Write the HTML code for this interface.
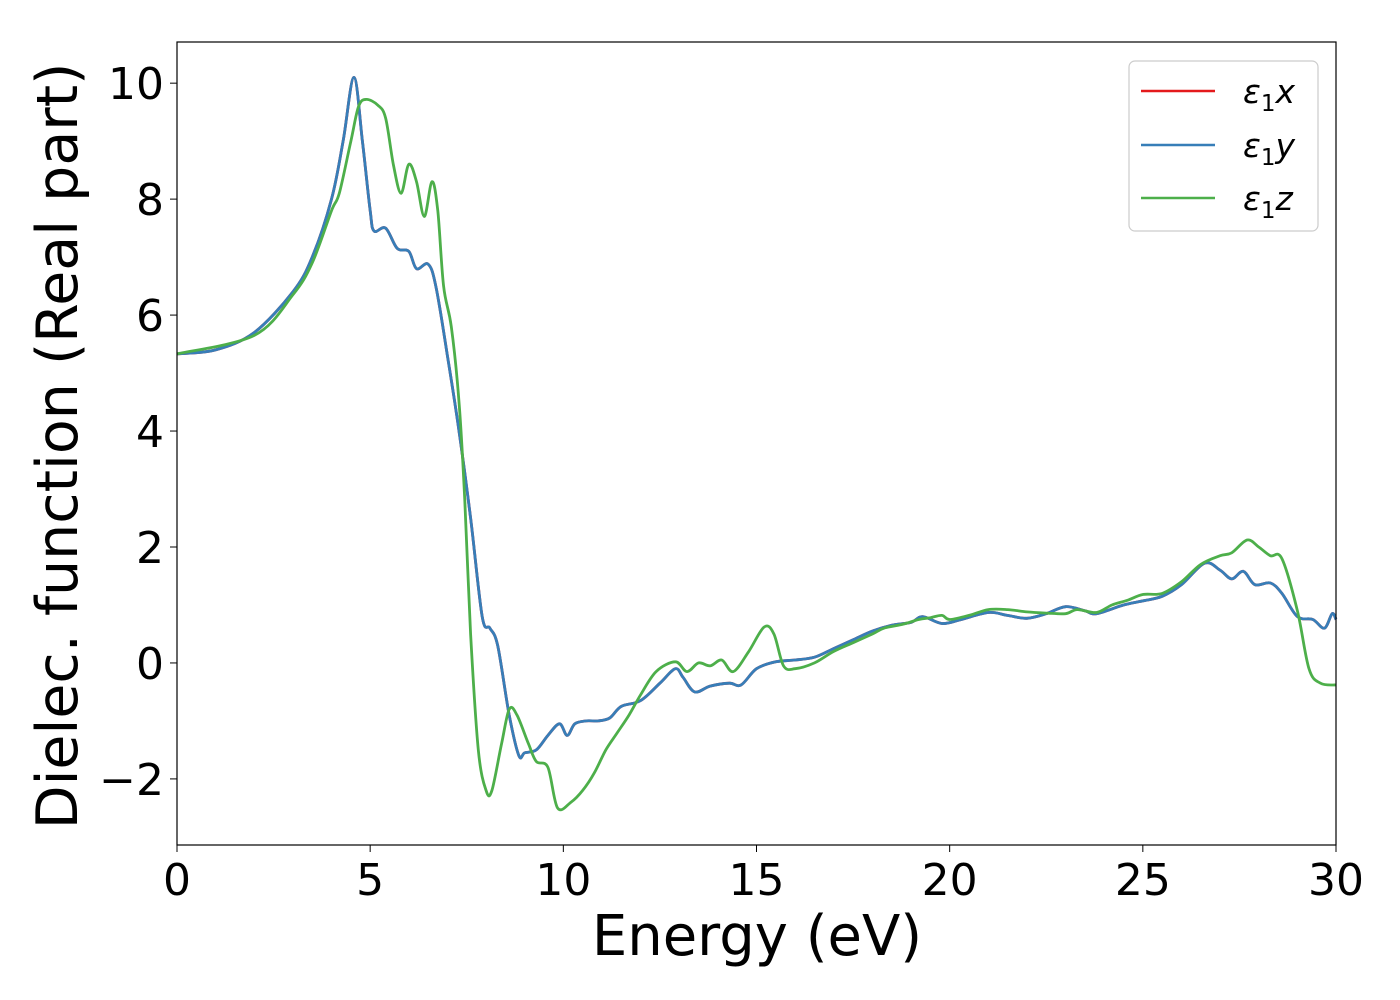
<!DOCTYPE html>
<html><head><meta charset="utf-8"><style>
body{margin:0;background:#fff}
svg{display:block;font-family:"DejaVu Sans","Liberation Sans",sans-serif}
</style></head><body>
<svg id="chart" width="1400" height="1000" viewBox="0 0 1400 1000">
<rect width="1400" height="1000" fill="#fff"/>
<g id="series"></g>
<rect x="177" y="42" width="1159" height="803" fill="none" stroke="#000" stroke-width="1.2"/>
<g id="ticks"></g>
<text x="757" y="955" font-size="56" text-anchor="middle">Energy (eV)</text>
<text transform="translate(77,446) rotate(-90)" font-size="57" text-anchor="middle">Dielec. function (Real part)</text>
<g>
<rect x="1129" y="61" width="189" height="170" rx="6" fill="#fff" fill-opacity="0.8" stroke="#ccc" stroke-width="1.2"/>
<g><line x1="1141" y1="91" x2="1215" y2="91" stroke="#e41a1c" stroke-width="2.5"/><text x="1243" y="103" font-size="33" font-style="italic">ε<tspan font-size="23" font-style="normal" dy="8">1</tspan><tspan dy="-8">x</tspan></text></g>
<g><line x1="1141" y1="145" x2="1215" y2="145" stroke="#377eb8" stroke-width="2.5"/><text x="1243" y="157" font-size="33" font-style="italic">ε<tspan font-size="23" font-style="normal" dy="8">1</tspan><tspan dy="-8">y</tspan></text></g>
<g><line x1="1141" y1="198" x2="1215" y2="198" stroke="#4daf4a" stroke-width="2.5"/><text x="1243" y="210" font-size="33" font-style="italic">ε<tspan font-size="23" font-style="normal" dy="8">1</tspan><tspan dy="-8">z</tspan></text></g>
</g>
</svg>
<script>
const xTicks=[0,5,10,15,20,25,30];
const yTicks=[-2,0,2,4,6,8,10];
const yTickLabels=["\u22122","0","2","4","6","8","10"];
const energyXY=[0,1,2,3,3.5,4,4.3,4.58,4.8,5.0,5.1,5.4,5.7,6.0,6.2,6.5,6.7,7.0,7.3,7.6,7.9,8.1,8.3,8.6,8.85,9.0,9.3,9.6,9.9,10.1,10.3,10.6,10.9,11.2,11.5,12.0,12.5,12.9,13.1,13.4,13.8,14.3,14.6,15.0,15.5,16.0,16.5,17.0,17.5,18.0,18.5,19.0,19.3,19.8,20.3,21.0,21.5,22.0,22.5,23.0,23.5,23.8,24.5,25.0,25.5,26.0,26.6,27.0,27.3,27.6,27.9,28.3,28.6,29.0,29.4,29.7,29.9,30.0];
const eps1xy=[5.33,5.4,5.7,6.4,7.0,8.0,9.0,10.1,9.0,7.8,7.45,7.5,7.15,7.1,6.8,6.88,6.5,5.3,4.0,2.5,0.8,0.6,0.3,-0.9,-1.6,-1.55,-1.5,-1.25,-1.05,-1.25,-1.05,-1.0,-1.0,-0.95,-0.75,-0.65,-0.35,-0.1,-0.25,-0.5,-0.4,-0.35,-0.38,-0.1,0.02,0.05,0.1,0.25,0.4,0.55,0.65,0.7,0.8,0.68,0.75,0.87,0.82,0.77,0.85,0.97,0.9,0.85,1.0,1.07,1.15,1.35,1.72,1.6,1.45,1.58,1.35,1.38,1.2,0.8,0.75,0.6,0.85,0.75];
const eps1x=eps1xy.slice();
const eps1y=eps1xy.slice();
const energyZ=[0,2,3,3.5,4.0,4.2,4.5,4.7,4.9,5.2,5.4,5.6,5.8,6.0,6.2,6.4,6.6,6.75,6.9,7.1,7.3,7.45,7.6,7.8,8.0,8.15,8.4,8.6,8.8,9.1,9.3,9.6,9.85,10.2,10.5,10.8,11.1,11.4,11.7,12.0,12.4,12.9,13.2,13.5,13.8,14.1,14.4,14.8,15.2,15.45,15.7,16.0,16.5,17.0,17.5,18.0,18.3,18.8,19.2,19.5,19.8,20.0,20.5,21.0,21.5,22.0,22.5,23.0,23.3,23.8,24.2,24.6,25.0,25.5,26.0,26.5,27.0,27.3,27.7,28.0,28.3,28.6,29.0,29.3,29.6,30.0];
const eps1z=[5.33,5.65,6.35,6.9,7.8,8.1,9.0,9.6,9.72,9.62,9.4,8.6,8.1,8.6,8.3,7.7,8.3,7.8,6.5,5.8,4.5,2.8,0.5,-1.5,-2.2,-2.2,-1.4,-0.8,-0.9,-1.4,-1.7,-1.8,-2.5,-2.4,-2.2,-1.9,-1.5,-1.2,-0.9,-0.55,-0.15,0.02,-0.15,0.0,-0.05,0.05,-0.15,0.2,0.62,0.5,-0.05,-0.1,0.0,0.2,0.35,0.5,0.6,0.67,0.75,0.78,0.82,0.75,0.82,0.92,0.92,0.88,0.86,0.85,0.92,0.87,1.0,1.08,1.18,1.2,1.4,1.7,1.85,1.9,2.12,2.0,1.85,1.8,0.9,-0.1,-0.35,-0.38];

const X0=177,X1=1336,Y0=845,Y1=42,xmin=0,xmax=30,ymin=-3.14,ymax=10.71;
const sx=v=>X0+(v-xmin)/(xmax-xmin)*(X1-X0);
const sy=v=>Y0-(v-ymin)/(ymax-ymin)*(Y0-Y1);
const NS="http://www.w3.org/2000/svg";
function pathFor(xs,ys){
  const p=xs.map((x,i)=>[sx(x),sy(ys[i])]);
  let d="M"+p[0][0].toFixed(1)+","+p[0][1].toFixed(1);
  for(let i=0;i<p.length-1;i++){
    const a=p[Math.max(i-1,0)],b=p[i],c=p[i+1],e=p[Math.min(i+2,p.length-1)];
    const c1=[b[0]+(c[0]-a[0])/6,b[1]+(c[1]-a[1])/6],c2=[c[0]-(e[0]-b[0])/6,c[1]-(e[1]-b[1])/6];
    d+="C"+c1[0].toFixed(1)+","+c1[1].toFixed(1)+" "+c2[0].toFixed(1)+","+c2[1].toFixed(1)+" "+c[0].toFixed(1)+","+c[1].toFixed(1);
  }
  return d;
}
const g=document.getElementById("series");
[[energyXY,eps1x,"#e41a1c","series-eps1-x"],[energyXY,eps1y,"#377eb8","series-eps1-y"],[energyZ,eps1z,"#4daf4a","series-eps1-z"]].forEach(s=>{
  const el=document.createElementNS(NS,"path");
  el.setAttribute("d",pathFor(s[0],s[1]));
  el.setAttribute("fill","none");el.setAttribute("stroke",s[2]);el.setAttribute("stroke-width","2.8");
  
  
  g.appendChild(el);
});
const t=document.getElementById("ticks");
xTicks.forEach(v=>{
  const l=document.createElementNS(NS,"line");
  l.setAttribute("x1",sx(v));l.setAttribute("x2",sx(v));l.setAttribute("y1",Y0);l.setAttribute("y2",Y0+7);l.setAttribute("stroke","#000");
  
  
  t.appendChild(l);
  const tx=document.createElementNS(NS,"text");
  tx.setAttribute("x",sx(v));tx.setAttribute("y",Y0+50);tx.setAttribute("font-size","44");tx.setAttribute("text-anchor","middle");
  tx.textContent=String(v);
  
  
  t.appendChild(tx);
});
yTicks.forEach((v,i)=>{
  const l=document.createElementNS(NS,"line");
  l.setAttribute("x1",X0-7);l.setAttribute("x2",X0);l.setAttribute("y1",sy(v));l.setAttribute("y2",sy(v));l.setAttribute("stroke","#000");
  
  
  t.appendChild(l);
  const tx=document.createElementNS(NS,"text");
  tx.setAttribute("x",X0-13);tx.setAttribute("y",sy(v)+16);tx.setAttribute("font-size","44");tx.setAttribute("text-anchor","end");
  tx.textContent=yTickLabels[i];
  
  
  t.appendChild(tx);
});
</script>
</body></html>
